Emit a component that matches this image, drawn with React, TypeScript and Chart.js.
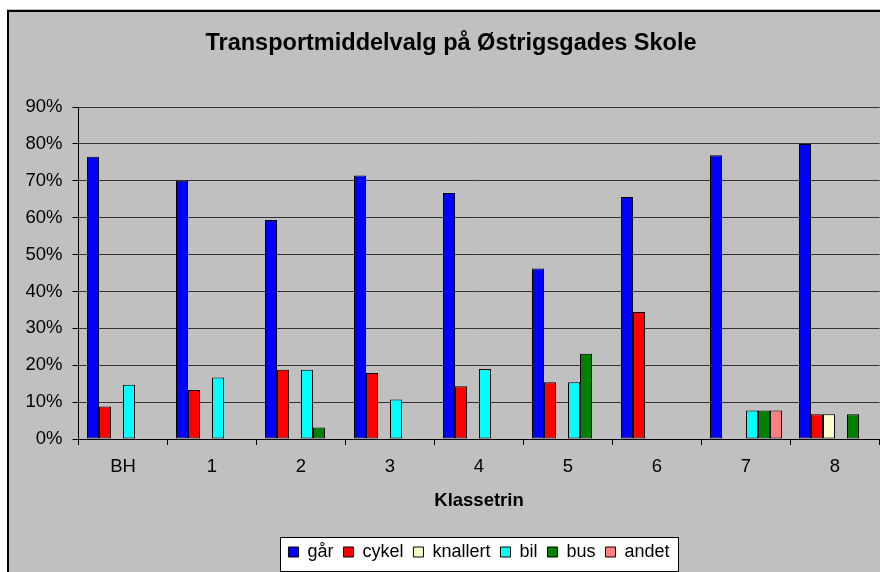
import React, { useEffect, useRef } from 'react';
import { Chart, registerables } from 'chart.js';

Chart.register(...registerables);

const FONT = "'Liberation Sans', Arial, sans-serif";

const chartTitle = 'Transportmiddelvalg på Østrigsgades Skole';
const xAxisTitle = 'Klassetrin';
const categories = ['BH', '1', '2', '3', '4', '5', '6', '7', '8'];

const seriesNames = ['går', 'cykel', 'knallert', 'bil', 'bus', 'andet'];
const seriesColors = ['#0000FF', '#FF0000', '#FFFFCC', '#00FFFF', '#008000', '#FF8080'];

const gaar = [76.5, 70.0, 59.4, 71.4, 66.7, 46.2, 65.6, 76.9, 80.0];
const cykel = [8.8, 13.3, 18.8, 17.9, 14.3, 15.4, 34.4, null, 6.7];
const knallert = [null, null, null, null, null, null, null, null, 6.7];
const bil = [14.7, 16.7, 18.8, 10.7, 19.0, 15.4, null, 7.7, null];
const bus = [null, null, 3.1, null, null, 23.1, null, 7.7, 6.7];
const andet = [null, null, null, null, null, null, null, 7.7, null];

const seriesValues = [gaar, cykel, knallert, bil, bus, andet];

const yMin = 0;
const yMax = 90;
const yStep = 10;

const backgroundPlugin = {
  id: 'excelBackground',
  beforeDraw(chart: any) {
    const { ctx, width, height } = chart;
    ctx.save();
    ctx.fillStyle = '#FFFFFF';
    ctx.fillRect(0, 0, width, height);
    ctx.fillStyle = '#C0C0C0';
    ctx.fillRect(7, 9, width - 7, height - 9);
    ctx.fillStyle = '#000000';
    ctx.fillRect(7, 10, width - 7, 2);
    ctx.fillRect(7, 10, 2, height - 10);
    const lg = chart.legend;
    if (lg && lg.legendHitBoxes && lg.legendHitBoxes.length) {
      const hb = lg.legendHitBoxes;
      const last = hb[hb.length - 1];
      const l = Math.round(hb[0].left - 8);
      const r = Math.round(last.left + last.width + 8);
      const t = Math.round(hb[0].top - 6);
      const b = Math.round(hb[0].top + hb[0].height + 10);
      ctx.fillStyle = '#FFFFFF';
      ctx.fillRect(l, t, r - l, b - t);
      ctx.strokeStyle = '#000000';
      ctx.lineWidth = 1;
      ctx.strokeRect(l + 0.5, t + 0.5, r - l, b - t);
    }
    ctx.restore();
  },
};

export default function App() {
  const canvasRef = useRef<HTMLCanvasElement | null>(null);

  useEffect(() => {
    if (!canvasRef.current) return;
    const chart = new Chart(canvasRef.current, {
      type: 'bar',
      data: {
        labels: categories,
        datasets: seriesNames.map((name, i) => ({
          label: name,
          data: seriesValues[i],
          backgroundColor: seriesColors[i],
          borderColor: '#000000',
          borderWidth: 1,
          borderSkipped: false,
          inflateAmount: 0,
          barPercentage: 1,
          categoryPercentage: 72 / 89,
        })),
      },
      options: {
        animation: false,
        responsive: false,
        maintainAspectRatio: false,
        layout: { padding: { left: 22.5, right: 0.5, top: 0, bottom: 1 } },
        plugins: {
          title: {
            display: true,
            text: chartTitle,
            color: '#000000',
            font: { family: FONT, size: 23.5, weight: 'bold' },
            padding: { top: 29.5, bottom: 49.3 },
          },
          legend: {
            display: true,
            position: 'bottom',
            fullSize: false,
            labels: {
              color: '#000000',
              font: { family: FONT, size: 18 },
              boxWidth: 10,
              boxHeight: 10,
              padding: 10,
            },
          },
          tooltip: { enabled: false },
        },
        scales: {
          x: {
            grid: {
              display: true,
              drawOnChartArea: false,
              drawTicks: true,
              tickLength: 6,
              tickColor: '#000000',
              offset: true,
            },
            border: { display: true, color: '#000000', width: 1 },
            ticks: {
              color: '#000000',
              font: { family: FONT, size: 18.5 },
              padding: 11,
              maxRotation: 0,
              autoSkip: false,
            },
            title: {
              display: true,
              text: xAxisTitle,
              color: '#000000',
              font: { family: FONT, size: 18.5, weight: 'bold' },
              padding: { top: 10, bottom: 21 },
            },
            afterFit(scale: any) {
              scale.height = 94;
            },
          },
          y: {
            min: yMin,
            max: yMax,
            grid: {
              color: '#333333',
              lineWidth: 1,
              drawTicks: true,
              tickLength: 6,
              tickColor: '#000000',
            },
            border: { display: true, color: '#000000', width: 1 },
            ticks: {
              stepSize: yStep,
              color: '#000000',
              font: { family: FONT, size: 18.5 },
              padding: 10,
              callback: (v: any) => `${v}%`,
            },
            afterFit(scale: any) {
              scale.width = 56;
            },
          },
        },
      },
      plugins: [backgroundPlugin],
    });
    return () => chart.destroy();
  }, []);

  return (
    <div style={{ position: 'absolute', left: 0, top: 0, width: 880, height: 572 }}>
      <canvas ref={canvasRef} width={880} height={572} style={{ display: 'block', width: 880, height: 572 }} />
    </div>
  );
}
